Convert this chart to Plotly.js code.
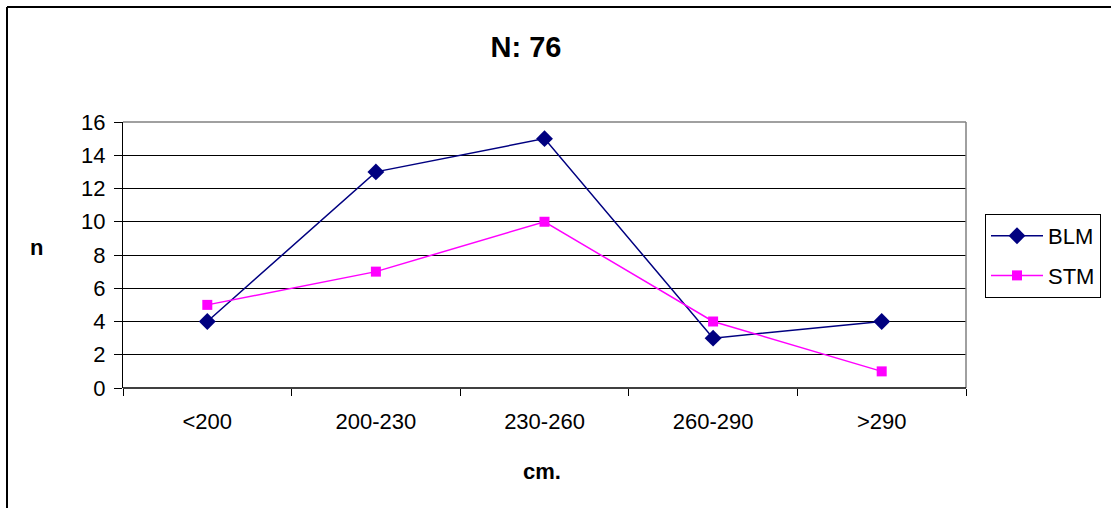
<!DOCTYPE html>
<html>
<head>
<meta charset="utf-8">
<script src="https://cdn.plot.ly/plotly-3.0.1.min.js"></script>
<style>
html,body{margin:0;padding:0;background:#fff;}
#chart{width:1111px;height:508px;}
</style>
</head>
<body>
<div id="chart"></div>
<script>
const categories = ["<200", "200-230", "230-260", "260-290", ">290"];
const blmValues = [4, 13, 15, 3, 4];
const stmValues = [5, 7, 10, 4, 1];
const yTicks = [0, 2, 4, 6, 8, 10, 12, 14, 16];
const chartTitle = "N: 76";
const xTitle = "cm.";
const yTitle = "n";

const FONT = "Liberation Sans, Arial, sans-serif";

const traces = [
  {
    x: categories, y: blmValues, name: "BLM", type: "scatter", mode: "lines+markers",
    legendgroup: "a",
    line: {color: "#000080", width: 1.5},
    marker: {symbol: "diamond", size: 13, color: "#000080"}
  },
  {
    x: categories, y: stmValues, name: "STM", type: "scatter", mode: "lines+markers",
    legendgroup: "b",
    line: {color: "#FF00FF", width: 1.5},
    marker: {symbol: "square", size: 10, color: "#FF00FF"}
  }
];

// plot area in pixels: x 123..966, y 122..388
const L = 123, R = 966, T = 122, B = 388, W = 1111, H = 508;
const pw = R - L, ph = B - T;
const px = v => (v - L) / pw;
const py = v => (B - v) / ph;

const layout = {
  width: W, height: H,
  margin: {l: L, r: W - R, t: T, b: H - B, pad: 0, autoexpand: false},
  paper_bgcolor: "#fff", plot_bgcolor: "#fff",
  font: {family: FONT, size: 22, color: "#000"},
  title: {text: "<b>" + chartTitle + "</b>", font: {family: FONT, size: 29, color: "#000"},
          x: 526 / W, xref: "container", xanchor: "center", y: 1 - 47 / H, yanchor: "middle"},
  showlegend: true,
  legend: {
    xref: "container", yref: "container",
    x: 985 / W, y: 1 - 214 / H, xanchor: "left", yanchor: "top",
    bordercolor: "#000", borderwidth: 1, bgcolor: "#fff",
    font: {family: FONT, size: 22, color: "#000"},
    traceorder: "grouped", tracegroupgap: 8, itemwidth: 52
  },
  xaxis: {
    type: "category", range: [-0.5, 4.5], tickson: "boundaries",
    ticks: "outside", ticklen: 7, tickcolor: "#000", tickwidth: 1,
    ticklabelstandoff: 18,
    showline: false, showgrid: false, zeroline: false,
    tickfont: {family: FONT, size: 22, color: "#000"},
    automargin: false,
    fixedrange: true
  },
  yaxis: {
    range: [0, 16], tickvals: yTicks, ticktext: yTicks.map(String),
    ticks: "outside", ticklen: 8, tickcolor: "#000", tickwidth: 1,
    ticklabelstandoff: 4,
    showline: true, linecolor: "#000", linewidth: 1,
    showgrid: true, gridcolor: "#000", gridwidth: 1, zeroline: false,
    tickfont: {family: FONT, size: 22, color: "#000"},
    automargin: false,
    fixedrange: true
  },
  annotations: [
    {text: "<b>" + xTitle + "</b>", xref: "paper", yref: "paper", x: px(542), y: py(471),
     xanchor: "center", yanchor: "middle", showarrow: false, font: {family: FONT, size: 22, color: "#000"}},
    {text: "<b>" + yTitle + "</b>", xref: "paper", yref: "paper", x: px(36), y: py(247),
     xanchor: "center", yanchor: "middle", showarrow: false, font: {family: FONT, size: 22, color: "#000"}}
  ],
  shapes: [
    {type: "line", xref: "paper", yref: "paper", x0: 0, x1: 1, y0: 1, y1: 1, line: {color: "#808080", width: 1.5}, layer: "above"},
    {type: "line", xref: "paper", yref: "paper", x0: 1, x1: 1, y0: 0, y1: 1, line: {color: "#808080", width: 1.5}, layer: "above"},
    {type: "line", xref: "paper", yref: "paper", x0: 0, x1: 1, y0: 0, y1: 0, line: {color: "#000", width: 1.5}, layer: "above"},
    {type: "line", xref: "paper", yref: "paper", x0: px(7), x1: px(7), y0: py(7), y1: py(H + 5), line: {color: "#000", width: 2}},
    {type: "line", xref: "paper", yref: "paper", x0: px(7), x1: px(W + 5), y0: py(7), y1: py(7), line: {color: "#000", width: 2}}
  ]
};

Plotly.newPlot("chart", traces, layout, {staticPlot: true, displayModeBar: false});
</script>
</body>
</html>
